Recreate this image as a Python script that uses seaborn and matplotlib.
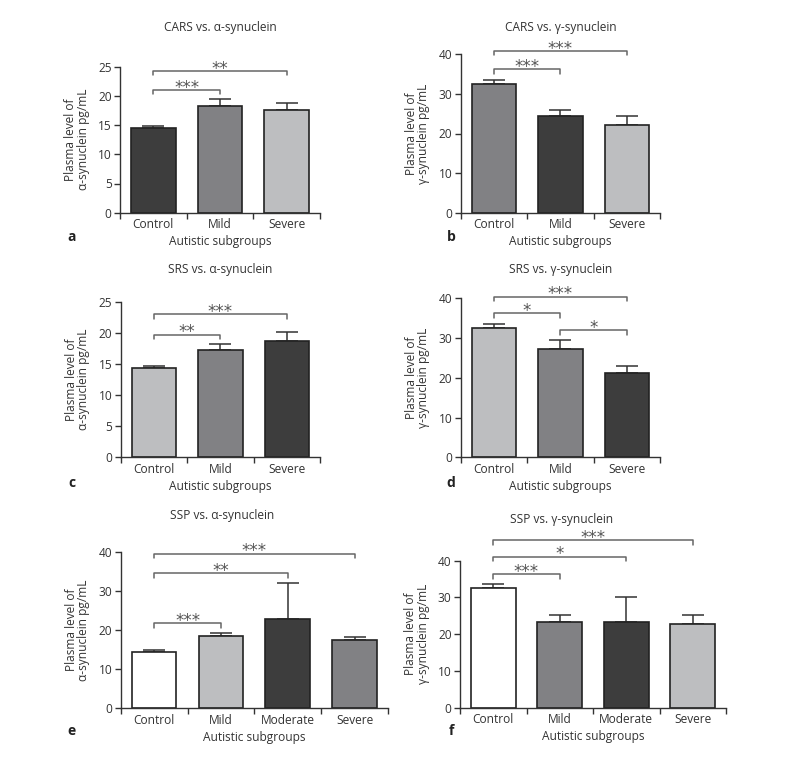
import numpy as np
import pandas as pd
import matplotlib
matplotlib.use("Agg")
import matplotlib.pyplot as plt
import seaborn as sns

sns.set_theme(style="ticks")
plt.rcParams["font.family"] = ["Open Sans", "DejaVu Sans"]

# ---------- data ----------
cats3 = ["Control", "Mild", "Severe"]
cats4 = ["Control", "Mild", "Moderate", "Severe"]

cars_alpha = [14.5, 18.3, 17.6]
cars_alpha_sem = [0.4, 1.1, 1.1]
cars_gamma = [32.5, 24.4, 22.2]
cars_gamma_sem = [1.0, 1.5, 2.3]

srs_alpha = [14.4, 17.35, 18.8]
srs_alpha_sem = [0.4, 0.85, 1.4]
srs_gamma = [32.5, 27.3, 21.3]
srs_gamma_sem = [1.1, 2.2, 1.6]

ssp_alpha = [14.45, 18.5, 22.9, 17.4]
ssp_alpha_sem = [0.35, 0.8, 9.0, 0.7]
ssp_gamma = [32.5, 23.2, 23.2, 22.7]
ssp_gamma_sem = [1.1, 2.1, 7.0, 2.6]

# significance brackets: (from, to, label)
cars_alpha_sig = [(0, 1, "***"), (0, 2, "**")]
cars_gamma_sig = [(0, 1, "***"), (0, 2, "***")]
srs_alpha_sig = [(0, 1, "**"), (0, 2, "***")]
srs_gamma_sig = [(0, 1, "*"), (1, 2, "*"), (0, 2, "***")]
ssp_alpha_sig = [(0, 1, "***"), (0, 2, "**"), (0, 3, "***")]
ssp_gamma_sig = [(0, 1, "***"), (0, 2, "*"), (0, 3, "***")]

DARK, MID, LIGHT, WHITE = "#3d3d3d", "#808184", "#bdbec0", "#ffffff"
TXT = "#333333"
FS = 8.6

W, H = 788, 762
fig = plt.figure(figsize=(W / 100, H / 100), dpi=100)


def add_ax(l, r, t, b):
    return fig.add_axes([l / W, 1 - b / H, (r - l) / W, (b - t) / H])


def panel(box, cats, means, sems, colors, ymax, ystep, title, title_xy, ylabel,
          letter, letter_xy, sig, bracket_y):
    ax = add_ax(*box)
    df = pd.DataFrame({"group": cats, "value": means})
    n = len(cats)
    ax.errorbar(range(n), means, yerr=[np.zeros(n), sems], fmt="none",
                ecolor="#333333", elinewidth=1.1, capsize=8, capthick=1.1, zorder=1)
    sns.barplot(data=df, x="group", y="value", hue="group", palette=colors,
                order=cats, width=0.67, edgecolor="#222222", linewidth=1.2,
                legend=False, ax=ax, zorder=2)
    ax.set_xlim(-0.5, n - 0.5)
    ax.set_ylim(0, ymax)
    ax.set_yticks(np.arange(0, ymax + 0.1, ystep))
    ax.set_xticks(np.arange(-0.5, n), labels=[])
    ax.set_xticks(range(n), labels=cats, minor=True)
    ax.tick_params(axis="x", which="minor", length=0, pad=4, labelsize=FS, colors=TXT)
    ax.tick_params(axis="x", which="major", length=4, width=1, color=TXT, direction="out")
    ax.tick_params(axis="y", length=4, width=1, color=TXT, labelsize=FS, pad=2,
                   labelcolor=TXT)
    for s in ["top", "right"]:
        ax.spines[s].set_visible(False)
    for s in ["left", "bottom"]:
        ax.spines[s].set_color(TXT)
        ax.spines[s].set_linewidth(1.0)
    ax.set_xlabel("Autistic subgroups", fontsize=FS, color=TXT, labelpad=3)
    ax.set_ylabel(ylabel, fontsize=FS, color=TXT, labelpad=6, linespacing=0.95)
    fig.text(title_xy[0] / W, 1 - title_xy[1] / H, title, fontsize=FS, color=TXT,
             ha="center", va="center")
    fig.text(letter_xy[0] / W, 1 - letter_xy[1] / H, letter, fontsize=10,
             fontweight="bold", color="#222222", ha="center", va="center")
    for (i, j, lab), y in zip(sig, bracket_y):
        drop = ymax * 0.03
        ax.plot([i, i, j, j], [y - drop, y, y, y - drop], color="#666666",
                lw=1.1, clip_on=False)
        ax.annotate(lab, ((i + j) / 2, y), xytext=(0, -2), textcoords="offset points",
                    ha="center", va="baseline", fontsize=12, color="#555555",
                    family="DejaVu Sans", annotation_clip=False)
    return ax


ya = "Plasma level of\nα-synuclein pg/mL"
yg = "Plasma level of\nγ-synuclein pg/mL"

panel((120, 320, 66.7, 212.7), cats3, cars_alpha, cars_alpha_sem, [DARK, MID, LIGHT],
      25, 5, "CARS vs. α-synuclein", (220, 27), ya, "a", (72, 237),
      cars_alpha_sig, [21.0, 24.3])
panel((460.7, 660, 54.3, 212.7), cats3, cars_gamma, cars_gamma_sem, [MID, DARK, LIGHT],
      40, 10, "CARS vs. γ-synuclein", (561, 27), yg, "b", (451, 237),
      cars_gamma_sig, [36.2, 40.9])
panel((120.7, 320, 302.3, 457.3), cats3, srs_alpha, srs_alpha_sem, [LIGHT, MID, DARK],
      25, 5, "SRS vs. α-synuclein", (220, 270), ya, "c", (72, 483),
      srs_alpha_sig, [19.8, 23.1])
panel((460.7, 660, 298.3, 457.3), cats3, srs_gamma, srs_gamma_sem, [LIGHT, MID, DARK],
      40, 10, "SRS vs. γ-synuclein", (561, 270), yg, "d", (451, 483),
      srs_gamma_sig, [36.2, 32.0, 40.4])
panel((120.7, 388, 551.7, 708.3), cats4, ssp_alpha, ssp_alpha_sem, [WHITE, LIGHT, DARK, MID],
      40, 10, "SSP vs. α-synuclein", (222, 516), ya, "e", (72, 731),
      ssp_alpha_sig, [21.8, 34.6, 39.5])
panel((460, 726, 560.7, 707.7), cats4, ssp_gamma, ssp_gamma_sem, [WHITE, MID, DARK, LIGHT],
      40, 10, "SSP vs. γ-synuclein", (562, 519), yg, "f", (451, 731),
      ssp_gamma_sig, [36.3, 41.1, 45.6])

fig.savefig("out.png", dpi=100, facecolor="white")
